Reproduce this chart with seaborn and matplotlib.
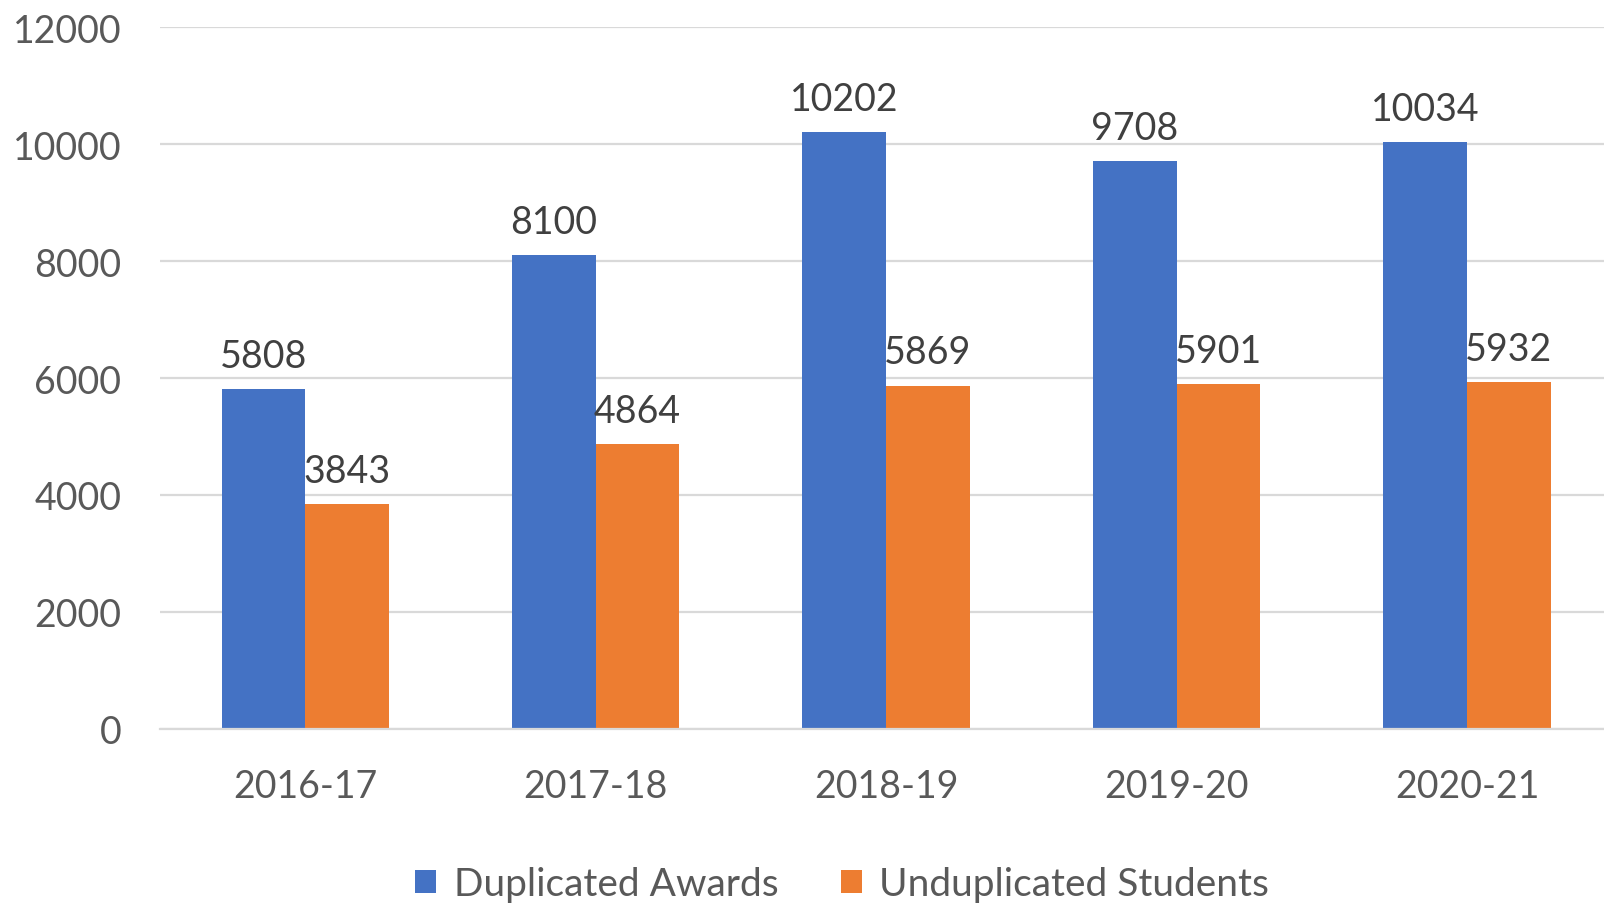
import matplotlib
matplotlib.use("Agg")
import matplotlib.pyplot as plt
import seaborn as sns
import pandas as pd
from matplotlib.patches import Patch

years = ["2016-17", "2017-18", "2018-19", "2019-20", "2020-21"]
duplicated_awards = [5808, 8100, 10202, 9708, 10034]
unduplicated_students = [3843, 4864, 5869, 5901, 5932]
series_names = ["Duplicated Awards", "Unduplicated Students"]
colors = ["#4472C4", "#ED7D31"]
yticks = [0, 2000, 4000, 6000, 8000, 10000, 12000]

df = pd.DataFrame({
    "Year": years * 2,
    "Series": [series_names[0]] * len(years) + [series_names[1]] * len(years),
    "Value": duplicated_awards + unduplicated_students,
})

sns.set_theme(style="white")
plt.rcParams["font.family"] = ["Lato", "DejaVu Sans"]

fig = plt.figure(figsize=(16.04, 9.04), dpi=100)
ax = fig.add_axes([0.0998, 0.1925, 0.9053, 0.7765])

sns.barplot(data=df, x="Year", y="Value", hue="Series", palette=colors,
            order=years, hue_order=series_names, width=0.577,
            saturation=1, ax=ax, legend=False, edgecolor="none")

for cont in ax.containers:
    ax.bar_label(cont, labels=[f"{int(v)}" for v in cont.datavalues],
                 padding=11, fontsize=27, color="#404040")

ax.set_ylim(0, 12000)
ax.set_xlim(-0.5, 4.5)
ax.set_yticks(yticks)
ax.set_yticklabels([str(t) for t in yticks])
ax.yaxis.grid(True, color="#D9D9D9", linewidth=1.6)
ax.set_axisbelow(True)
for s in ["top", "right", "left"]:
    ax.spines[s].set_visible(False)
ax.spines["bottom"].set_color("#D9D9D9")
ax.spines["bottom"].set_linewidth(1.6)
ax.tick_params(axis="y", length=0, pad=28, labelsize=27, labelcolor="#595959")
ax.tick_params(axis="x", length=0, pad=28, labelsize=27, labelcolor="#595959")
ax.set_xlabel("")
ax.set_ylabel("")

handles = [Patch(facecolor=c, edgecolor="none") for c in colors]
fig.legend(handles, series_names, loc="center", bbox_to_anchor=(0.525, 0.021),
           ncol=2, frameon=False, fontsize=28, labelcolor="#595959",
           handlelength=0.55, handleheight=0.55, handletextpad=0.45, columnspacing=1.6)

fig.savefig("out.png", dpi=100)
